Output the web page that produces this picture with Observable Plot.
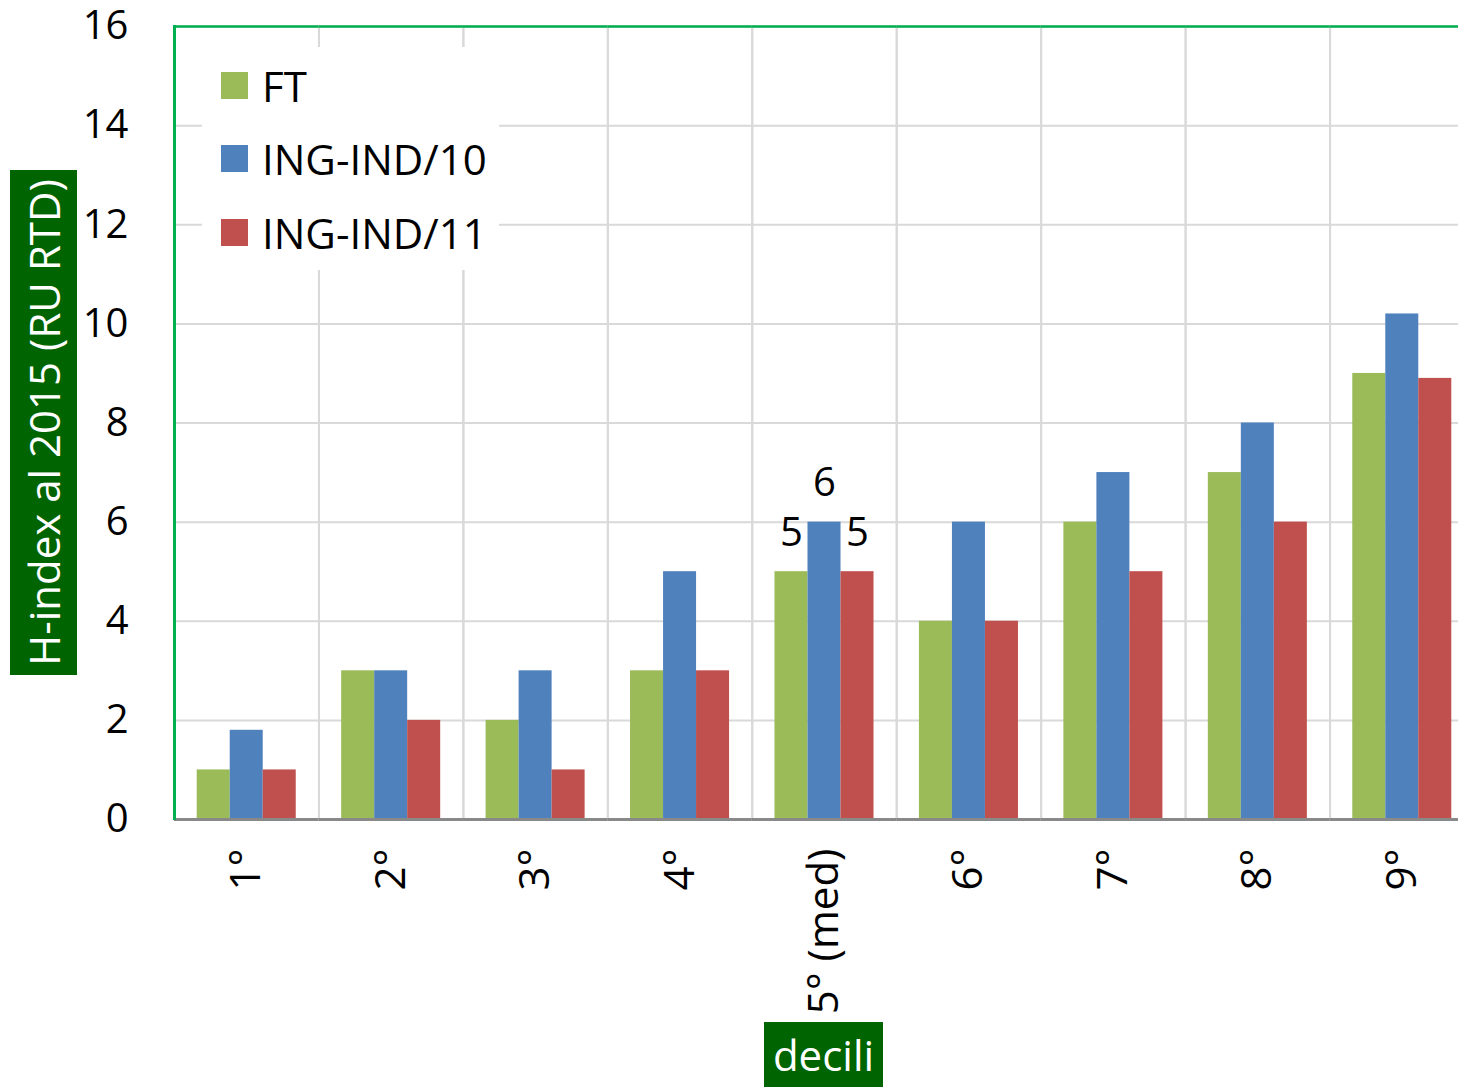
<!DOCTYPE html>
<html>
<head>
<meta charset="utf-8">
<script src="https://cdn.jsdelivr.net/npm/d3@7"></script>
<script src="https://cdn.jsdelivr.net/npm/@observablehq/plot@0.6"></script>
<style>
  html, body { margin: 0; padding: 0; background: white; overflow: hidden; }
  #wrap { position: relative; width: 1458px; height: 1087px; font-family: 'Open Sans', sans-serif; }
  #wrap svg { position: absolute; left: 0; top: 0; }
  #wrap svg g[aria-label="fx-axis tick label"] { font-size: 42px; }
  .box { position: absolute; background: #006400; color: white; font-size: 42px; text-align: center; white-space: nowrap; }
  #legend { position: absolute; left: 202px; top: 47px; width: 297px; height: 223px; background: white; }
  .item { position: absolute; left: 19px; height: 40px; display: flex; align-items: center; font-size: 42px; color: black; }
  .sw { width: 27px; height: 27px; margin-right: 14px; flex: none; }
  #leftline { position: absolute; left: 173px; top: 25px; width: 2.5px; height: 795px; background: #00b050; }
</style>
</head>
<body>
<div id="wrap"></div>
<script>
const categories = ["1°", "2°", "3°", "4°", "5° (med)", "6°", "7°", "8°", "9°"];
const series = ["FT", "ING-IND/10", "ING-IND/11"];
const valuesFT = [1, 3, 2, 3, 5, 4, 6, 7, 9];
const valuesIND10 = [1.8, 3, 3, 5, 6, 6, 7, 8, 10.2];
const valuesIND11 = [1, 2, 1, 3, 5, 4, 5, 6, 8.9];
const yTicks = [0, 2, 4, 6, 8, 10, 12, 14, 16];
const colors = ["#9bbb59", "#4f81bd", "#c0504d"];
const labelledCategory = "5° (med)";
const yTitle = "H-index al 2015 (RU RTD)";
const xTitle = "decili";

const seriesValues = [valuesFT, valuesIND10, valuesIND11];
const data = categories.flatMap((c, i) => series.map((s, j) => ({cat: c, series: s, value: seriesValues[j][i]})));

const chart = Plot.plot({
  width: 1458,
  height: 1087,
  marginLeft: 174,
  marginRight: -16,
  marginTop: 26,
  marginBottom: 268,
  style: {fontFamily: "'Open Sans', sans-serif", fontSize: "40px", color: "black", background: "transparent"},
  fx: {domain: categories, paddingInner: 0, paddingOuter: 0, round: false, label: null, axis: "bottom", tickRotate: -90, tickSize: 0, tickPadding: 29},
  x: {domain: series, paddingInner: 0, paddingOuter: 0.688, round: false, axis: null},
  y: {domain: [0, 16], ticks: yTicks, tickSize: 0, tickPadding: 46, label: null},
  color: {domain: series, range: colors},
  marks: [
    Plot.ruleY(yTicks, {stroke: "#d9d9d9", strokeWidth: 2}),
    Plot.frame({stroke: "#d9d9d9", strokeWidth: 2}),
    Plot.barY(data, {fx: "cat", x: "series", y: "value", fill: "series"}),
    Plot.text(data.filter(d => d.cat === labelledCategory), {fx: "cat", x: "series", y: "value", text: d => String(d.value), dy: -39, fontSize: 40, fill: "black"}),
    Plot.ruleY([0], {stroke: "#898989", strokeWidth: 3}),
    Plot.ruleY([16], {stroke: "#00b050", strokeWidth: 2.5})
  ]
});

const wrap = document.getElementById("wrap");
wrap.appendChild(chart);

const left = document.createElement("div");
left.id = "leftline";
wrap.appendChild(left);

const legend = document.createElement("div");
legend.id = "legend";
const rowTops = [18, 91, 165];
series.forEach((s, j) => {
  const it = document.createElement("div");
  it.className = "item";
  it.style.top = rowTops[j] + "px";
  const sw = document.createElement("div");
  sw.className = "sw";
  sw.style.background = colors[j];
  it.appendChild(sw);
  const t = document.createElement("span");
  t.textContent = s;
  it.appendChild(t);
  legend.appendChild(it);
});
wrap.appendChild(legend);

const yt = document.createElement("div");
yt.className = "box";
yt.textContent = yTitle;
Object.assign(yt.style, {left: (43.5 - 252.5) + "px", top: (422.5 - 33.5) + "px", width: "505px", height: "67px", lineHeight: "67px", fontSize: "42px", transform: "rotate(-90deg)"});
wrap.appendChild(yt);

const xt = document.createElement("div");
xt.className = "box";
xt.textContent = xTitle;
Object.assign(xt.style, {left: "764px", top: "1022px", width: "119px", height: "65px", lineHeight: "65px"});
wrap.appendChild(xt);
</script>
</body>
</html>
